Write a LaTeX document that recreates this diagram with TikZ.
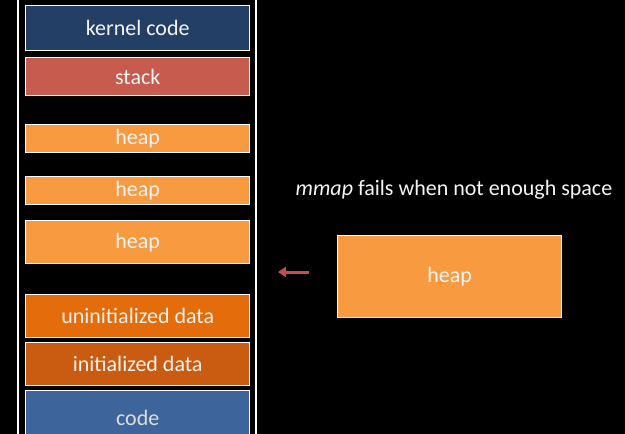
\documentclass[tikz,border=0pt]{standalone}
\usepackage{fontspec}
\setmainfont{Carlito}
\usetikzlibrary{arrows.meta}
\definecolor{kernelblue}{HTML}{243F66}
\definecolor{stackred}{HTML}{C65B4E}
\definecolor{heaporange}{HTML}{F79A40}
\definecolor{uninitorange}{HTML}{E46C0A}
\definecolor{initorange}{HTML}{C95C10}
\definecolor{codeblue}{HTML}{3D659B}
\definecolor{arrowred}{HTML}{C0504D}
\definecolor{textwhite}{HTML}{F4F4F4}
\tikzset{
  seg/.style={draw=white, line width=1.4pt, minimum width=224pt, inner sep=0pt,
    anchor=north west, text=textwhite, font=\fontsize{22}{26}\selectfont},
}
\begin{document}
\begin{tikzpicture}[x=1pt,y=-1pt]
  \fill[black] (0,0) rectangle (625,434);
  \useasboundingbox (0,0) rectangle (625,434);

  % address space frame
  \coordinate (frameTL) at (18,0);
  \coordinate (frameBL) at (18,434);
  \coordinate (frameTR) at (256,0);
  \coordinate (frameBR) at (256,434);
  \draw[white, line width=1.4pt] (frameTL) -- (frameBL);
  \draw[white, line width=1.4pt] (frameTR) -- (frameBR);

  % segments
  \node[seg, fill=kernelblue, minimum height=45pt] (kernel) at (25,5) {kernel code};
  \node[seg, fill=stackred, minimum height=38pt] (stack) at (25,57) {stack};
  \node[seg, fill=heaporange, minimum height=28pt] (heapA) at (25,124) {heap};
  \node[seg, fill=heaporange, minimum height=28pt] (heapB) at (25,176) {heap};
  \node[seg, fill=heaporange, minimum height=43pt] (heapC) at (25,220) {heap};
  \node[seg, fill=uninitorange, minimum height=43pt] (uninit) at (25,294) {uninitialized data};
  \node[seg, fill=initorange, minimum height=43pt] (init) at (25,342) {initialized data};
  \node[seg, fill=codeblue, minimum height=56pt, text=textwhite!80!gray, text depth=1pt] (code) at (25,390) {code};

  % heap that does not fit
  \node[seg, fill=heaporange, minimum width=224pt, minimum height=82pt] (heapNew) at (337,235) {heap};
  \node[text=textwhite, font=\fontsize{22}{26}\selectfont, anchor=base] (caption) at (454,195)
    {\textit{mmap} fails when not enough space};

  \coordinate (arrowTail) at (309,272);
  \coordinate (arrowHead) at (278,272);
  \draw[arrowred, line width=3pt, -{Triangle[length=8pt,width=10pt]}] (arrowTail) -- (arrowHead);
\end{tikzpicture}
\end{document}
